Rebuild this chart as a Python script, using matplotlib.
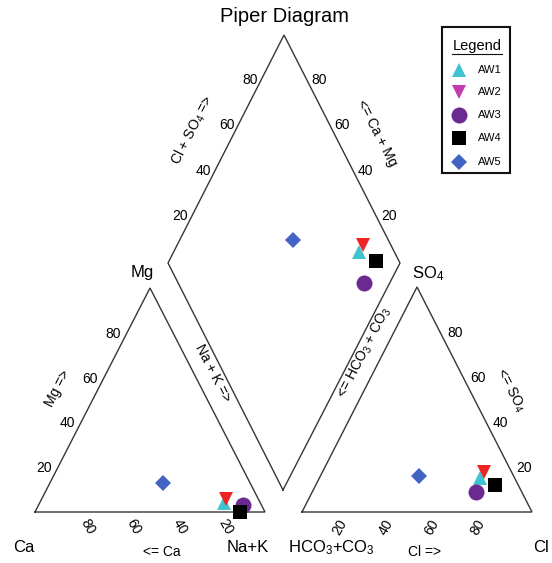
import numpy as np
import matplotlib
matplotlib.use("Agg")
import matplotlib.pyplot as plt
from matplotlib.patches import Rectangle

plt.rcParams['font.family'] = ['Liberation Sans', 'DejaVu Sans']
plt.rcParams['mathtext.default'] = 'regular'

# ---------------- data (percent) ----------------
samples = ["AW1", "AW2", "AW3", "AW4", "AW5"]
ca = [16, 14, 8, 11, 38]
mg = [4, 6, 3, 0, 13]
nak = [80, 80, 89, 89, 49]
hco3 = [15, 12, 20, 10, 41]
so4 = [15, 18, 9, 12, 16]
cl = [70, 70, 71, 78, 43]
tick_values = [20, 40, 60, 80]

# ---------------- styles ----------------
markers = ['^', 'v', 'o', 's', 'D']
plot_colors = ['#3ec3cf', '#ee2424', '#6b2a92', '#000000', '#4262c4']
legend_colors = ['#3ec3cf', '#c03cb0', '#6b2a92', '#000000', '#4262c4']
msizes = [9.5, 9.5, 11.5, 10, 8.0]
LC = '#3a3535'

# ---------------- geometry (figure pixels) ----------------
CA_C = np.array([35.0, 512.0]); NA_C = np.array([265.0, 512.0]); MG_C = np.array([150.0, 288.0])
HC_C = np.array([302.0, 512.0]); CL_C = np.array([532.0, 512.0]); SO_C = np.array([417.0, 287.0])
D_BOT = np.array([283.0, 490.0]); D_LEFT = np.array([168.0, 263.0])
D_RIGHT = np.array([400.0, 263.0]); D_TOP = np.array([284.0, 35.0])

def cation_xy(c, m, n):
    t = c + m + n
    return CA_C * c / t + MG_C * m / t + NA_C * n / t

def anion_xy(h, s, c):
    t = h + s + c
    return HC_C * h / t + SO_C * s / t + CL_C * c / t

def diamond_xy(clso4, camg):
    return D_BOT + clso4 * (D_RIGHT - D_BOT) + camg * (D_LEFT - D_BOT)

fig = plt.figure(figsize=(5.52, 5.63), dpi=100)
ax = fig.add_axes([0, 0, 1, 1])
ax.set_xlim(0, 552)
ax.set_ylim(563, 0)
ax.axis('off')

def poly(pts):
    pts = np.array(pts + [pts[0]])
    ax.plot(pts[:, 0], pts[:, 1], color=LC, lw=1.0, solid_joinstyle='miter')

poly([CA_C, NA_C, MG_C])
poly([HC_C, CL_C, SO_C])
poly([D_BOT, D_RIGHT, D_TOP, D_LEFT])

ang = abs(np.degrees(np.arctan((CA_C[1] - MG_C[1]) / (MG_C[0] - CA_C[0]))))

TF = 10
# ---- ticks ----
for v in tick_values:
    f = v / 100.0
    # cation base (Ca decreasing to the right)
    p = CA_C + (1 - f) * (NA_C - CA_C)
    ax.text(p[0] + 7, p[1] + 15, str(v), rotation=-60, ha='center', va='center', fontsize=TF)
    # anion base
    p = HC_C + f * (CL_C - HC_C)
    ax.text(p[0] - 8, p[1] + 15, str(v), rotation=60, ha='center', va='center', fontsize=TF)
    # cation left edge (Mg)
    p = CA_C + f * (MG_C - CA_C)
    ax.text(p[0] - 6, p[1] + 1, str(v), ha='right', va='center', fontsize=TF)
    # anion right edge (SO4)
    p = CL_C + f * (SO_C - CL_C)
    ax.text(p[0] + 7, p[1] + 1, str(v), ha='left', va='center', fontsize=TF)
    # diamond left edge (Cl+SO4)
    p = D_LEFT + f * (D_TOP - D_LEFT)
    ax.text(p[0] - 3, p[1] - 1, str(v), ha='right', va='center', fontsize=TF)
    # diamond right edge (Ca+Mg)
    p = D_RIGHT + f * (D_TOP - D_RIGHT)
    ax.text(p[0] + 4, p[1] - 1, str(v), ha='left', va='center', fontsize=TF)

# ---- axis labels ----
ax.text(58, 388, 'Mg =>', rotation=ang, ha='center', va='center', fontsize=TF)
ax.text(213, 373, 'Na + K =>', rotation=-ang, ha='center', va='center', fontsize=TF)
ax.text(193, 130, 'Cl + SO$_4$ =>', rotation=ang, ha='center', va='center', fontsize=TF)
ax.text(377, 133, '<= Ca + Mg', rotation=-ang, ha='center', va='center', fontsize=TF)
ax.text(365, 353, '<= HCO$_3$ + CO$_3$', rotation=ang, ha='center', va='center', fontsize=TF)
ax.text(510, 390, '<= SO$_4$', rotation=-ang, ha='center', va='center', fontsize=TF)
ax.text(162, 552, '<= Ca', ha='center', va='center', fontsize=TF)
ax.text(424, 552, 'Cl =>', ha='center', va='center', fontsize=TF)

# ---- corner labels ----
CF = 12
ax.text(142, 273, 'Mg', ha='center', va='center', fontsize=CF)
ax.text(428, 274, 'SO$_4$', ha='center', va='center', fontsize=CF)
ax.text(24, 548, 'Ca', ha='center', va='center', fontsize=CF)
ax.text(248, 548, 'Na+K', ha='center', va='center', fontsize=CF)
ax.text(331, 548, 'HCO$_3$+CO$_3$', ha='center', va='center', fontsize=CF)
ax.text(533, 548, 'Cl', ha='left', va='center', fontsize=CF)

ax.text(284, 16, 'Piper Diagram', ha='center', va='center', fontsize=14.5)

# ---- data points ----
for i in range(len(samples)):
    pc = cation_xy(ca[i], mg[i], nak[i])
    pa = anion_xy(hco3[i], so4[i], cl[i])
    pd = diamond_xy((so4[i] + cl[i]) / 100.0, (ca[i] + mg[i]) / 100.0)
    for p in (pc, pa, pd):
        ax.plot(p[0], p[1], marker=markers[i], color=plot_colors[i], ms=msizes[i],
                mew=0, linestyle='none', zorder=3)

# ---- legend ----
ax.add_patch(Rectangle((442, 27), 68, 146, fill=False, ec='#111111', lw=1.5, zorder=4))
ax.text(477, 46, 'Legend', ha='center', va='center', fontsize=10.5)
ax.plot([452, 502], [54, 54], color='#111111', lw=0.8)
leg_y = [70, 92, 115, 138, 162]
for i in range(len(samples)):
    ax.plot(459, leg_y[i], marker=markers[i], color=legend_colors[i], ms=msizes[i],
            mew=0, linestyle='none')
    ax.text(478, leg_y[i], samples[i], ha='left', va='center', fontsize=8)

fig.savefig('out.png', dpi=100)
